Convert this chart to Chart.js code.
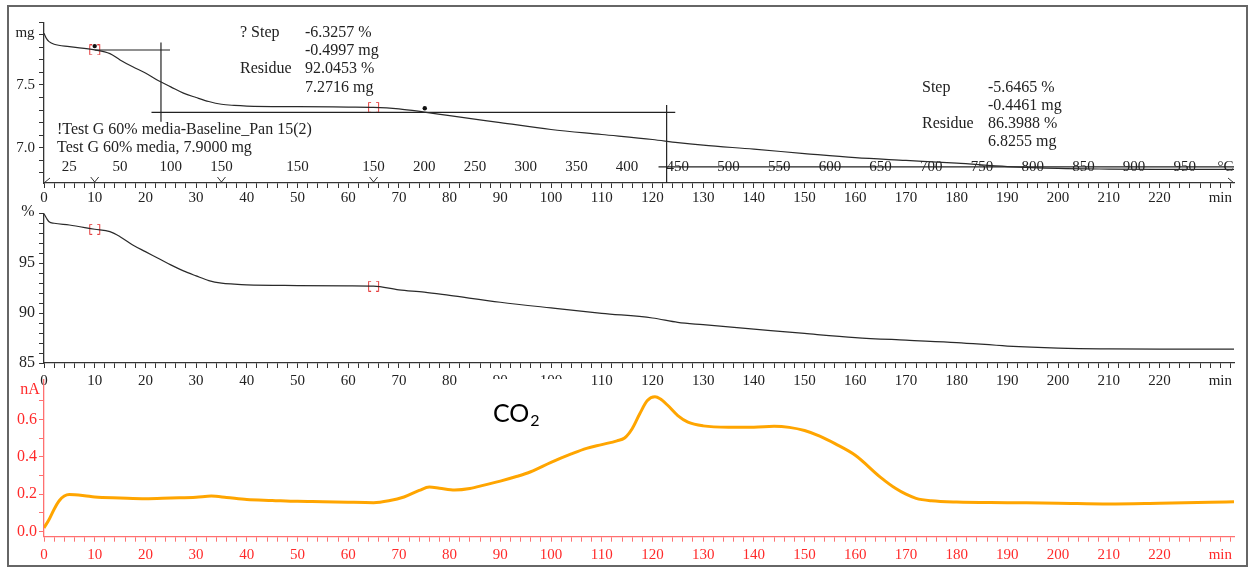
<!DOCTYPE html>
<html>
<head>
<meta charset="utf-8">
<script src="https://cdn.jsdelivr.net/npm/chart.js@4.4.1/dist/chart.umd.min.js"></script>
<style>
  body { margin: 0; background: #fff; }
  #wrap { position: relative; width: 1252px; height: 568px; }
  #wrap canvas { position: absolute; left: 0; top: 0; }
  #frame { position: absolute; left: 7px; top: 5px; width: 1241px; height: 562px; box-sizing: border-box; border: 2px solid #666; }
</style>
</head>
<body>
<div id="wrap">
  <div id="frame"></div>
  <canvas id="massChart" width="1252" height="568"></canvas>
  <canvas id="pctChart" width="1252" height="568"></canvas>
  <canvas id="co2Chart" width="1252" height="568"></canvas>
</div>
<script>
// TGA mass (mg) vs time
const massTime = [0, 0.5, 1, 2, 5, 10, 13, 15, 17.5, 20, 22.5, 25, 27.5, 30, 32.5, 35, 37.5, 40, 50, 60, 65, 70, 75, 80, 90, 100, 110, 120, 125, 130, 140, 150, 160, 170, 180, 190, 200, 210, 220, 234.7];
const massMg = [7.912, 7.87, 7.846, 7.825, 7.806, 7.78, 7.75, 7.70, 7.645, 7.595, 7.535, 7.485, 7.435, 7.40, 7.368, 7.346, 7.337, 7.332, 7.327, 7.324, 7.322, 7.31, 7.284, 7.255, 7.2, 7.145, 7.105, 7.065, 7.04, 7.02, 6.988, 6.953, 6.92, 6.898, 6.876, 6.849, 6.834, 6.829, 6.827, 6.826];

// TGA mass (%) vs time
const pctTime = [0, 0.5, 1, 2, 5, 10, 13, 15, 17.5, 20, 22.5, 25, 27.5, 30, 32.5, 35, 37.5, 40, 50, 60, 65, 70, 75, 80, 90, 100, 110, 120, 125, 130, 140, 150, 160, 170, 180, 190, 200, 210, 220, 234.7];
const pctValue = [99.95, 99.5, 99.15, 99.0, 98.83, 98.4, 98.16, 97.66, 96.83, 96.16, 95.5, 94.83, 94.23, 93.73, 93.26, 93.0, 92.9, 92.83, 92.76, 92.73, 92.7, 92.33, 92.1, 91.77, 91.09, 90.52, 89.98, 89.51, 89.07, 88.84, 88.4, 87.96, 87.55, 87.29, 87.05, 86.7, 86.5, 86.42, 86.4, 86.4];

// MS ion current for CO2 (nA) vs time
const co2Time = [0, 1, 2, 3, 4, 5, 8, 10, 15, 20, 25, 30, 33, 36, 40, 45, 50, 55, 60, 65, 68, 71, 74, 76, 78, 81, 84, 87, 90, 93, 96, 100, 104, 107, 110, 113, 114.5, 116, 117.5, 119, 120.5, 121.5, 123, 125, 127, 130, 135, 140, 144, 147, 150, 153, 156, 160, 165, 168, 170, 172, 175, 180, 190, 200, 210, 220, 230, 234.7];
const co2nA = [0.02, 0.065, 0.12, 0.165, 0.19, 0.198, 0.192, 0.185, 0.18, 0.176, 0.18, 0.184, 0.19, 0.183, 0.172, 0.167, 0.162, 0.16, 0.157, 0.155, 0.165, 0.185, 0.22, 0.238, 0.232, 0.222, 0.23, 0.25, 0.27, 0.293, 0.32, 0.37, 0.415, 0.445, 0.465, 0.485, 0.5, 0.55, 0.63, 0.7, 0.72, 0.71, 0.675, 0.62, 0.585, 0.565, 0.558, 0.558, 0.563, 0.557, 0.54, 0.51, 0.47, 0.408, 0.29, 0.23, 0.2, 0.178, 0.165, 0.158, 0.155, 0.152, 0.148, 0.152, 0.157, 0.16];

// temperature program labels (placed at their time)
const tempTimes = [5, 15, 25, 35, 50, 65, 75, 85, 95, 105, 115, 125, 135, 145, 155, 165, 175, 185, 195, 205, 215, 225, 233];
const tempLabels = ['25', '50', '100', '150', '150', '150', '200', '250', '300', '350', '400', '450', '500', '550', '600', '650', '700', '750', '800', '850', '900', '950', '°C'];
const segmentTimes = [10, 35, 65];

// tick labels
const xLabelValues = [0, 10, 20, 30, 40, 50, 60, 70, 80, 90, 100, 110, 120, 130, 140, 150, 160, 170, 180, 190, 200, 210, 220];
const minLabelAt = 232;
const mgLabels = [7.0, 7.5];
const pctLabels = [85, 90, 95];
const nALabels = [0.0, 0.2, 0.4, 0.6];

// step evaluation marks
const markTime = [10, 65];
const markMg = [7.78, 7.322];
const markPct = [98.4, 92.7];
const dotTime = [10, 75.1];
const dotMg = [7.81, 7.314];
const guideTime = [[10, 24.85], [23.07, 23.07], [21.2, 124.5], [122.8, 122.8], [121.2, 234.7]];
const guideMg = [[7.779, 7.779], [7.838, 7.207], [7.282, 7.282], [7.34, 6.718], [6.846, 6.846]];

const xMax = 234.7;
const SERIF = '"Liberation Serif", "Times New Roman", serif';
Chart.defaults.font.family = SERIF;

function tickList(start, end, step) {
  const out = [];
  for (let v = start; v <= end + 1e-6; v += step) out.push({ value: Math.round(v * 1000) / 1000 });
  return out;
}
const near = (a, b) => Math.abs(a - b) < 1e-6;
const pts = (xs, ys) => xs.map((x, i) => ({ x: x, y: ys[i] }));

function xLabel(v) {
  if (near(v, minLabelAt)) return 'min';
  return xLabelValues.some(l => near(l, v)) ? String(v) : '';
}

function panelScales(p) {
  return {
    x: {
      type: 'linear', min: 0, max: xMax,
      afterBuildTicks: a => { a.ticks = tickList(0, 234, 2); },
      afterFit: a => { a.height = p.xHeight; },
      border: { color: p.axisColor, width: 1.3 },
      grid: { drawOnChartArea: false, tickLength: 5, tickColor: p.axisColor, tickWidth: 1 },
      ticks: { autoSkip: false, maxRotation: 0, minRotation: 0, padding: p.xPad, color: p.textColor, font: { size: 15 }, callback: v => xLabel(v) }
    },
    y: {
      type: 'linear', min: p.yMin, max: p.yMax,
      afterBuildTicks: a => { a.ticks = tickList(p.tickStart, p.tickEnd, p.tickStep); },
      afterFit: a => { a.width = 44; },
      border: { color: p.axisColor, width: 1.3 },
      grid: { drawOnChartArea: false, tickLength: 5, tickColor: p.axisColor, tickWidth: 1 },
      ticks: { autoSkip: false, padding: p.yPad, color: p.textColor, font: { size: p.yFont },
        callback: v => p.labels.some(l => near(l, v)) ? v.toFixed(p.digits) : '' }
    }
  };
}

function baseOptions(p) {
  return {
    responsive: false,
    animation: false,
    events: [],
    layout: { padding: { top: p.padTop, bottom: p.padBottom, left: 0, right: 18 } },
    plugins: { legend: { display: false }, tooltip: { enabled: false } },
    scales: panelScales(p)
  };
}

function bracketIcon() {
  const c = document.createElement('canvas');
  c.width = 13; c.height = 11;
  const g = c.getContext('2d');
  g.strokeStyle = '#e43c3c';
  g.lineWidth = 1;
  g.beginPath();
  g.moveTo(4, 0.5); g.lineTo(1.5, 0.5); g.lineTo(1.5, 10.5); g.lineTo(4, 10.5);
  g.moveTo(9, 0.5); g.lineTo(11.5, 0.5); g.lineTo(11.5, 10.5); g.lineTo(9, 10.5);
  g.stroke();
  return c;
}
const bracket = bracketIcon();

function curve(xs, ys, color, width) {
  return { data: pts(xs, ys), showLine: true, borderColor: color, borderWidth: width,
    pointRadius: 0, cubicInterpolationMode: 'monotone' };
}

function text(ctx, s, x, y, opts) {
  ctx.font = (opts && opts.font) || ('16px ' + SERIF);
  ctx.fillStyle = (opts && opts.color) || '#222';
  ctx.textAlign = (opts && opts.align) || 'left';
  ctx.textBaseline = 'middle';
  ctx.fillText(s, x, y);
}

// ---------- panel 1: mg ----------
const massOverlay = {
  id: 'massOverlay',
  beforeDatasetsDraw(chart) {
    const { ctx } = chart;
    const x = chart.scales.x;
    ctx.save();
    tempTimes.forEach((t, i) => text(ctx, tempLabels[i], x.getPixelForValue(t), 167, { font: '15px ' + SERIF, align: 'center' }));
    ctx.restore();
  },
  afterDraw(chart) {
    const { ctx, chartArea } = chart;
    const x = chart.scales.x;
    const yb = chartArea.bottom;
    ctx.save();
    ctx.strokeStyle = '#333';
    ctx.lineWidth = 1;
    ctx.beginPath();
    segmentTimes.forEach(t => {
      const px = x.getPixelForValue(t);
      ctx.moveTo(px - 4, yb - 6); ctx.lineTo(px, yb - 1); ctx.lineTo(px + 4, yb - 6);
    });
    const x0 = x.getPixelForValue(0), x1 = x.getPixelForValue(xMax);
    ctx.moveTo(x0, yb); ctx.lineTo(x0 + 6, yb - 5);
    ctx.moveTo(x1, yb); ctx.lineTo(x1 - 6, yb - 5);
    ctx.stroke();

    text(ctx, 'mg', 25, 33, { font: '15px ' + SERIF, align: 'center' });

    text(ctx, '? Step', 240, 33);
    text(ctx, '-6.3257 %', 305, 33);
    text(ctx, '-0.4997 mg', 305, 51);
    text(ctx, 'Residue', 240, 69);
    text(ctx, '92.0453 %', 305, 69);
    text(ctx, '7.2716 mg', 305, 88);

    text(ctx, 'Step', 922, 88);
    text(ctx, '-5.6465 %', 988, 88);
    text(ctx, '-0.4461 mg', 988, 106);
    text(ctx, 'Residue', 922, 124);
    text(ctx, '86.3988 %', 988, 124);
    text(ctx, '6.8255 mg', 988, 142);

    text(ctx, '!Test G 60% media-Baseline_Pan 15(2)', 57, 130);
    text(ctx, 'Test G 60% media, 7.9000 mg', 57, 148);
    ctx.restore();
  }
};

const massDatasets = [curve(massTime, massMg, '#2a2a2a', 1.2)];
guideTime.forEach((g, i) => {
  massDatasets.push({ data: pts(g, guideMg[i]), showLine: true, borderColor: '#222', borderWidth: 1.2, pointRadius: 0 });
});
massDatasets.push({ data: pts(markTime, markMg), pointStyle: bracket, pointRadius: 5 });
massDatasets.push({ data: pts(dotTime, dotMg), pointRadius: 2.2, backgroundColor: '#111', borderWidth: 0 });

new Chart(document.getElementById('massChart'), {
  type: 'scatter',
  data: { datasets: massDatasets },
  options: baseOptions({ padTop: 22.3, padBottom: 355, xHeight: 30, xPad: 1, yMin: 6.718, yMax: 8.0,
    tickStart: 6.8, tickEnd: 8.0, tickStep: 0.1, labels: mgLabels, digits: 1, yFont: 15, yPad: 4,
    axisColor: '#333', textColor: '#222' }),
  plugins: [massOverlay]
});

// ---------- panel 2: % ----------
const pctOverlay = {
  id: 'pctOverlay',
  afterDraw(chart) {
    const { ctx } = chart;
    ctx.save();
    text(ctx, '%', 28, 212, { font: '16px ' + SERIF, align: 'center' });
    ctx.restore();
  }
};

new Chart(document.getElementById('pctChart'), {
  type: 'scatter',
  data: { datasets: [
    curve(pctTime, pctValue, '#2a2a2a', 1.2),
    { data: pts(markTime, markPct), pointStyle: bracket, pointRadius: 5 }
  ] },
  options: baseOptions({ padTop: 213.3, padBottom: 175, xHeight: 30, xPad: 4, yMin: 85, yMax: 100,
    tickStart: 85, tickEnd: 100, tickStep: 1, labels: pctLabels, digits: 0, yFont: 16, yPad: 4,
    axisColor: '#333', textColor: '#222' }),
  plugins: [pctOverlay]
});

// ---------- panel 3: CO2 ion current ----------
const co2Overlay = {
  id: 'co2Overlay',
  afterDraw(chart) {
    const { ctx } = chart;
    ctx.save();
    text(ctx, 'nA', 30, 390, { font: '16px ' + SERIF, align: 'center', color: '#ff2a2a' });
    // white label box pasted over the chart
    ctx.fillStyle = '#fff';
    ctx.fillRect(485, 379, 83, 50);
    ctx.fillStyle = '#000';
    ctx.textAlign = 'left';
    ctx.textBaseline = 'alphabetic';
    ctx.font = '25px Lato, "Open Sans", sans-serif';
    ctx.fillText('CO', 493, 422);
    const w = ctx.measureText('CO').width;
    ctx.font = '16px Lato, "Open Sans", sans-serif';
    ctx.fillText('2', 493 + w + 1, 426);
    ctx.restore();
  }
};

new Chart(document.getElementById('co2Chart'), {
  type: 'scatter',
  data: { datasets: [curve(co2Time, co2nA, '#ffa500', 3)] },
  options: baseOptions({ padTop: 380, padBottom: 0, xHeight: 31.3, xPad: 4, yMin: -0.027, yMax: 0.81,
    tickStart: 0, tickEnd: 0.7, tickStep: 0.1, labels: nALabels, digits: 1, yFont: 16, yPad: 2,
    axisColor: '#ff7070', textColor: '#ff2a2a' }),
  plugins: [co2Overlay]
});
</script>
</body>
</html>
